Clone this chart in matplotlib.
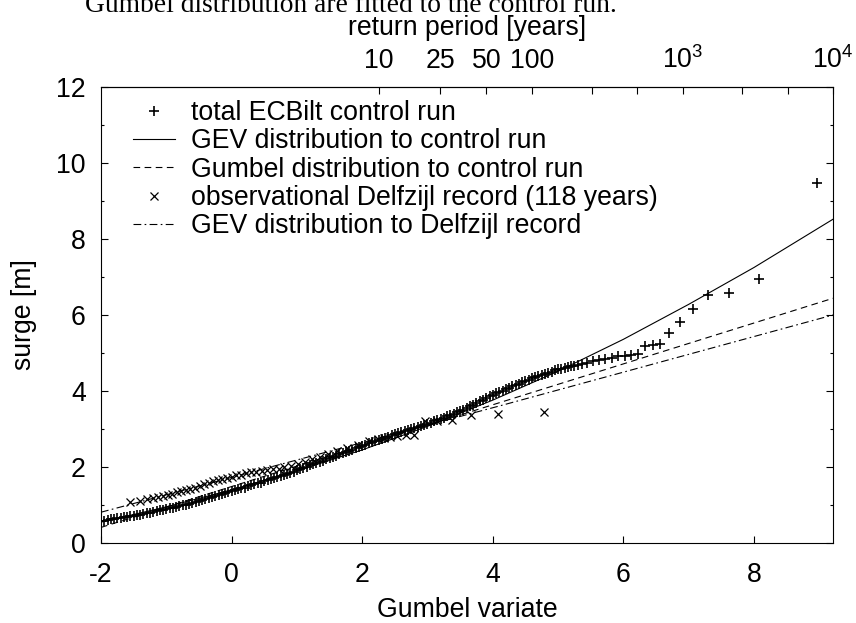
import numpy as np
import matplotlib
matplotlib.use("Agg")
import matplotlib.pyplot as plt
from matplotlib.ticker import MultipleLocator, NullLocator

plt.rcParams['font.family'] = ['Liberation Sans', 'DejaVu Sans']
plt.rcParams['mathtext.fontset'] = 'custom'
plt.rcParams['mathtext.rm'] = 'Liberation Sans'
plt.rcParams['mathtext.default'] = 'regular'
plt.rcParams['axes.unicode_minus'] = False

# --- data ---
# total ECBilt control run (Gumbel variate, surge in m)
ctrl_x = [-2.00, -1.95, -1.90, -1.85, -1.80, -1.75, -1.70, -1.65, -1.60, -1.55,
          -1.50, -1.45, -1.40, -1.35, -1.30, -1.25, -1.20, -1.15, -1.10, -1.05,
          -1.00, -0.95, -0.90, -0.85, -0.80, -0.75, -0.70, -0.65, -0.60, -0.55,
          -0.50, -0.45, -0.40, -0.35, -0.30, -0.25, -0.20, -0.15, -0.10, -0.05,
          0.00, 0.05, 0.10, 0.15, 0.20, 0.25, 0.30, 0.35, 0.40, 0.45,
          0.50, 0.55, 0.60, 0.65, 0.70, 0.75, 0.80, 0.85, 0.90, 0.95,
          1.00, 1.05, 1.10, 1.15, 1.20, 1.25, 1.30, 1.35, 1.40, 1.45,
          1.50, 1.55, 1.60, 1.65, 1.70, 1.75, 1.80, 1.85, 1.90, 1.95,
          2.00, 2.05, 2.10, 2.15, 2.20, 2.25, 2.30, 2.35, 2.40, 2.45,
          2.50, 2.55, 2.60, 2.65, 2.70, 2.75, 2.80, 2.85, 2.90, 2.95,
          3.00, 3.05, 3.10, 3.15, 3.20, 3.25, 3.30, 3.35, 3.40, 3.45,
          3.50, 3.55, 3.60, 3.65, 3.70, 3.75, 3.80, 3.85, 3.90, 3.95,
          4.00, 4.05, 4.10, 4.15, 4.20, 4.25, 4.30, 4.35, 4.40, 4.45,
          4.50, 4.55, 4.60, 4.65, 4.70, 4.75, 4.80, 4.85, 4.90, 4.95,
          5.00, 5.05, 5.10, 5.15, 5.20, 5.25, 5.30,
          5.37, 5.45, 5.54, 5.63, 5.72, 5.82, 5.92, 6.02, 6.12, 6.23,
          6.33, 6.45, 6.56, 6.70, 6.87, 7.06, 7.30, 7.62, 8.08, 8.96]
ctrl_y = [0.58, 0.59, 0.61, 0.62, 0.64, 0.65, 0.66, 0.68, 0.69, 0.71,
          0.72, 0.74, 0.75, 0.77, 0.79, 0.80, 0.82, 0.84, 0.86, 0.87,
          0.89, 0.91, 0.93, 0.95, 0.97, 0.99, 1.01, 1.03, 1.06, 1.08,
          1.10, 1.13, 1.15, 1.18, 1.20, 1.23, 1.26, 1.28, 1.31, 1.33,
          1.36, 1.39, 1.41, 1.44, 1.46, 1.49, 1.52, 1.54, 1.57, 1.59,
          1.62, 1.65, 1.68, 1.71, 1.74, 1.77, 1.79, 1.82, 1.85, 1.88,
          1.91, 1.94, 1.97, 2.01, 2.04, 2.07, 2.10, 2.13, 2.17, 2.20,
          2.23, 2.26, 2.30, 2.33, 2.36, 2.40, 2.43, 2.46, 2.50, 2.53,
          2.56, 2.59, 2.62, 2.65, 2.68, 2.71, 2.74, 2.77, 2.80, 2.83,
          2.86, 2.89, 2.92, 2.94, 2.97, 3.00, 3.03, 3.06, 3.08, 3.11,
          3.14, 3.17, 3.21, 3.24, 3.27, 3.30, 3.34, 3.37, 3.40, 3.44,
          3.47, 3.51, 3.56, 3.60, 3.64, 3.69, 3.73, 3.77, 3.81, 3.86,
          3.90, 3.94, 3.97, 4.01, 4.05, 4.08, 4.12, 4.16, 4.19, 4.23,
          4.27, 4.30, 4.33, 4.36, 4.39, 4.42, 4.45, 4.48, 4.51, 4.54,
          4.57, 4.59, 4.61, 4.63, 4.65, 4.67, 4.68,
          4.72, 4.75, 4.78, 4.82, 4.85, 4.87, 4.91, 4.93, 4.95, 4.97,
          5.18, 5.21, 5.23, 5.52, 5.81, 6.15, 6.53, 6.57, 6.94, 9.48]

# GEV fit to control run
gev_ctrl_x = [-2.0, -1.0, 0.0, 1.0, 2.0, 3.0, 4.0, 5.0, 6.0, 7.0, 8.0, 9.21]
gev_ctrl_y = [0.55, 0.95, 1.40, 1.90, 2.45, 3.07, 3.76, 4.52, 5.36, 6.28, 7.25, 8.52]

# Gumbel fit to control run
gum_ctrl_x = [-2.0, 9.21]
gum_ctrl_y = [0.41, 6.44]

# observational Delfzijl record
obs_x = [-1.56, -1.40, -1.29, -1.20, -1.12, -1.05, -0.98, -0.91, -0.84, -0.77,
         -0.70, -0.63, -0.56, -0.49, -0.42, -0.35, -0.28, -0.21, -0.14, -0.07,
         0.00, 0.07, 0.14, 0.22, 0.30, 0.38, 0.46, 0.54, 0.63, 0.72,
         0.81, 0.91, 1.01, 1.12, 1.23, 1.35, 1.48, 1.62, 1.77, 1.93,
         2.10, 2.24, 2.33, 2.43, 2.54, 2.67, 2.80, 2.96, 3.15, 3.38,
         3.67, 4.08, 4.78]
obs_y = [1.07, 1.11, 1.15, 1.18, 1.21, 1.24, 1.27, 1.30, 1.33, 1.36,
         1.39, 1.42, 1.46, 1.50, 1.54, 1.58, 1.62, 1.66, 1.69, 1.72,
         1.75, 1.78, 1.80, 1.83, 1.86, 1.88, 1.90, 1.92, 1.94, 1.96,
         1.99, 2.03, 2.08, 2.14, 2.20, 2.27, 2.35, 2.43, 2.51, 2.59,
         2.68, 2.74, 2.77, 2.79, 2.82, 2.84, 2.85, 3.20, 3.22, 3.24,
         3.37, 3.39, 3.46]

# GEV fit to Delfzijl record
gev_obs_x = [-2.0, 4.11, 9.21]
gev_obs_y = [0.81, 3.61, 6.00]

# top axis: return periods
periods = [10, 25, 50, 100, 250, 500, 1000, 2500, 5000, 10000]
period_labels = ['10', '25', '50', '100', '', '', '$10^3$', '', '', '$10^4$']


def gumbel_to_period(x):
    x = np.asarray(x, dtype=float)
    with np.errstate(all='ignore'):
        return 1.0 / -np.expm1(-np.exp(-x))


def period_to_gumbel(T):
    T = np.asarray(T, dtype=float)
    with np.errstate(all='ignore'):
        return -np.log(-np.log1p(-1.0 / T))


fs = 19.2

fig = plt.figure(figsize=(8.56, 6.23), dpi=100)
ax = fig.add_axes([101 / 856, 1 - 543 / 623, 732 / 856, 456 / 623])

ax.plot(ctrl_x, ctrl_y, ls='none', marker='+', ms=7, mew=1.2, color='black',
        label='total ECBilt control run')
ax.plot(gev_ctrl_x, gev_ctrl_y, ls='-', lw=0.8, color='black',
        label='GEV distribution to control run')
ax.plot(gum_ctrl_x, gum_ctrl_y, ls=(0, (6, 4)), lw=0.8, color='black',
        label='Gumbel distribution to control run')
ax.plot(obs_x, obs_y, ls='none', marker='x', ms=5.5, mew=0.9, color='black',
        label='observational Delfzijl record (118 years)')
ax.plot(gev_obs_x, gev_obs_y, ls=(0, (7, 3, 1.5, 3)), lw=0.8, color='black',
        label='GEV distribution to Delfzijl record')

ax.set_xlim(-2, period_to_gumbel(10000))
ax.set_ylim(0, 12)
ax.set_xticks([-2, 0, 2, 4, 6, 8])
ax.xaxis.set_minor_locator(NullLocator())
ax.yaxis.set_major_locator(MultipleLocator(2))
ax.yaxis.set_minor_locator(MultipleLocator(1))
ax.tick_params(which='both', direction='in', top=False, right=True,
               labelsize=fs, width=0.8)
ax.tick_params(which='major', length=5)
ax.tick_params(which='minor', length=2.5)
ax.tick_params(axis='x', pad=14)
ax.tick_params(axis='y', pad=11)
for s in ax.spines.values():
    s.set_linewidth(0.8)

ax.set_xlabel('Gumbel variate', fontsize=fs)
ax.set_ylabel('surge [m]', fontsize=fs)
ax.xaxis.set_label_coords(0.5, -0.118)
ax.yaxis.set_label_coords(-0.087, 0.5)

secax = ax.secondary_xaxis('top', functions=(gumbel_to_period, period_to_gumbel))
secax.set_xticks(periods, period_labels)
secax.xaxis.set_minor_locator(NullLocator())
secax.tick_params(direction='in', length=5, width=0.8, labelsize=fs, pad=9)
secax.spines['top'].set_linewidth(0.8)
secax.set_xlabel('return period [years]', fontsize=fs, labelpad=8.5)

ax.legend(loc='upper left', bbox_to_anchor=(0.0437, 0.971), frameon=False,
          borderpad=0, borderaxespad=0, handlelength=1.56, handletextpad=0.6,
          labelspacing=0.085, fontsize=fs, numpoints=1)

fig.text(351 / 856, 1 - 12 / 623,
         'Gumbel distribution are fitted to the control run.',
         ha='center', va='baseline', fontsize=19.8, family='Liberation Serif')

fig.savefig('out.png', dpi=100)
